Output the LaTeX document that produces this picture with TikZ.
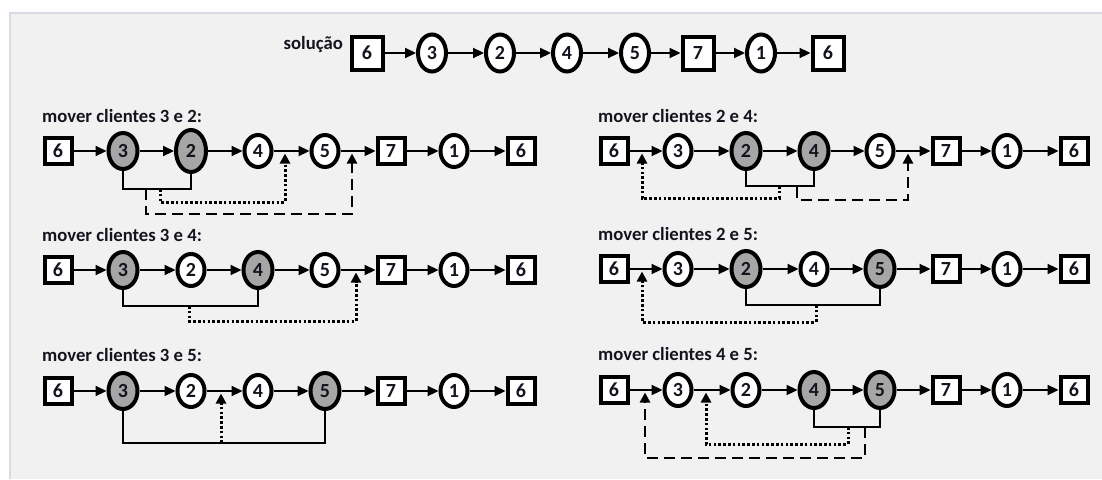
\documentclass[tikz,border=0pt]{standalone}
\usepackage{fontspec}
\setmainfont{Carlito}
\usetikzlibrary{arrows.meta,shapes.geometric}
\definecolor{bgc}{RGB}{241,241,241}
\definecolor{bordc}{RGB}{214,219,230}
\definecolor{gfill}{RGB}{166,166,166}
\definecolor{txt}{RGB}{20,20,30}
\tikzset{
 nbase/.style={draw=black, font=\fontsize{20}{20}\selectfont\bfseries, inner sep=0pt, text=txt},
 sq/.style={nbase, rectangle, line width=4pt, fill=white, minimum width=27pt, minimum height=26pt},
 sqt/.style={sq, minimum width=31pt, minimum height=33pt},
 wc/.style={nbase, ellipse, line width=4pt, fill=white, minimum width=27pt, minimum height=32pt},
 wct/.style={wc, minimum width=28pt, minimum height=37pt},
 gc/.style={wc, fill=gfill, minimum width=29pt, minimum height=36pt},
 gcb/.style={gc, minimum width=30pt, minimum height=42pt},
 conn/.style={line width=2.2pt, -{Triangle[length=11pt,width=10pt]}},
 brk/.style={line width=2.6pt, line join=miter},
 dotl/.style={line width=3pt, dash pattern=on 2.6pt off 2.2pt, -{Triangle[length=10pt,width=10pt]}},
 dashl/.style={line width=2.6pt, dash pattern=on 11pt off 6pt, -{Triangle[length=10pt,width=10pt]}},
 lbl/.style={font=\fontsize{18.7}{18.7}\selectfont\bfseries, inner sep=0pt, anchor=base west, text=txt},
}
\newcommand\chain[3]{%
 \foreach \x/\t/\s [count=\i] in {#3} {\node[\s] (#1\i) at (\x,#2) {\t};}
 \foreach \i [evaluate=\i as \j using int(\i+1)] in {1,...,7} {\draw[conn] (#1\i) -- (#1\j);}
}
\begin{document}
\begin{tikzpicture}[x=1pt,y=-1pt]
\useasboundingbox (0,0) rectangle (1102,479);
\fill[white] (0,0) rectangle (1102,479);
\fill[bgc] (9,12) rectangle (1102,479);
\draw[bordc, line width=1.5pt] (9.75,479) -- (9.75,12.75) -- (1102,12.75);

% top row
\node[lbl, anchor=base east] (sol) at (343,49) {solução};
\chain{t}{53}{367/6/sqt,432/3/wct,500/2/wct,567/4/wct,635/5/wct,698/7/sqt,761/1/wct,828/6/sqt}

% row 2 left: 3 e 2
\node[lbl] (la) at (42,122.5) {mover clientes 3 e 2:};
\chain{a}{151}{58/6/sq,123/3/gc,191/2/gcb,258/4/wc,325/5/wc,391/7/sq,454/1/wc,521/6/sq}
\draw[brk] (a2.south) -- (a2.south |- 0,189) -- (a3.south |- 0,189) -- (a3.south);
\coordinate (as1) at (160,189); \coordinate (at1) at (285,153.5);
\coordinate (as2) at (146,189); \coordinate (at2) at (352,153.5);
\draw[dotl] (as1) -- (as1 |- 0,202) -| (at1);
\draw[dashl] (as2) -- (as2 |- 0,214) -| (at2);

% row 2 right: 2 e 4
\node[lbl] (lb) at (598,122.5) {mover clientes 2 e 4:};
\chain{b}{151}{614/6/sq,678/3/wc,746/2/gc,814/4/gc,880/5/wc,946/7/sq,1007/1/wc,1074/6/sq}
\draw[brk] (b3.south) -- (b3.south |- 0,186) -- (b4.south |- 0,186) -- (b4.south);
\coordinate (bs1) at (779,186); \coordinate (bt1) at (642,153.5);
\coordinate (bs2) at (797,187); \coordinate (bt2) at (908,153.5);
\draw[dotl] (bs1) -- (bs1 |- 0,198) -| (bt1);
\draw[dashl] (bs2) -- (bs2 |- 0,200) -| (bt2);

% row 3 left: 3 e 4
\node[lbl] (lc) at (42,241.5) {mover clientes 3 e 4:};
\chain{c}{270}{58/6/sq,123/3/gc,191/2/wc,258/4/gc,325/5/wc,391/7/sq,454/1/wc,521/6/sq}
\draw[brk] (c2.south) -- (c2.south |- 0,306) -- (c4.south |- 0,306) -- (c4.south);
\coordinate (cs1) at (189,306); \coordinate (ct1) at (356,272.5);
\draw[dotl] (cs1) -- (cs1 |- 0,321) -| (ct1);

% row 3 right: 2 e 5
\node[lbl] (ld) at (598,240.5) {mover clientes 2 e 5:};
\chain{d}{269}{614/6/sq,678/3/wc,746/2/gc,814/4/wc,880/5/gc,946/7/sq,1007/1/wc,1074/6/sq}
\draw[brk] (d3.south) -- (d3.south |- 0,305) -- (d5.south |- 0,305) -- (d5.south);
\coordinate (ds1) at (816,305); \coordinate (dt1) at (642,271.5);
\draw[dotl] (ds1) -- (ds1 |- 0,322) -| (dt1);

% row 4 left: 3 e 5
\node[lbl] (le) at (42,361.5) {mover clientes 3 e 5:};
\chain{e}{391}{58/6/sq,123/3/gc,191/2/wc,258/4/wc,325/5/gc,391/7/sq,454/1/wc,521/6/sq}
\draw[brk] (e2.south) -- (e2.south |- 0,443) -- (e5.south |- 0,443) -- (e5.south);
\coordinate (es1) at (221,443); \coordinate (et1) at (221,393.5);
\draw[dotl] (es1) -- (et1);

% row 4 right: 4 e 5
\node[lbl] (lf) at (598,360.5) {mover clientes 4 e 5:};
\chain{f}{390}{614/6/sq,678/3/wc,746/2/wc,814/4/gc,880/5/gc,946/7/sq,1007/1/wc,1074/6/sq}
\draw[brk] (f4.south) -- (f4.south |- 0,427) -- (f5.south |- 0,427) -- (f5.south);
\coordinate (fs1) at (848,427); \coordinate (ft1) at (706,392.5);
\coordinate (fs2) at (865,427); \coordinate (ft2) at (645,392.5);
\draw[dotl] (fs1) -- (fs1 |- 0,444) -| (ft1);
\draw[dashl] (fs2) -- (fs2 |- 0,458) -| (ft2);
\end{tikzpicture}
\end{document}
